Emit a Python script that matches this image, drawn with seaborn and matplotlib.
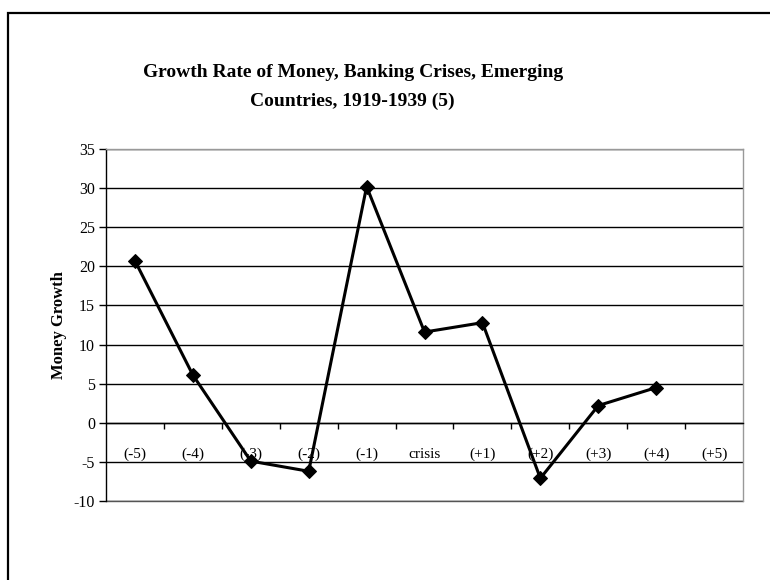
import numpy as np
import matplotlib
matplotlib.use('Agg')
import matplotlib.pyplot as plt
from matplotlib.patches import Rectangle
import seaborn as sns

# event window around the crisis year
categories = ['(-5)', '(-4)', '(-3)', '(-2)', '(-1)', 'crisis',
              '(+1)', '(+2)', '(+3)', '(+4)', '(+5)']
money_growth = [20.7, 6.1, -4.9, -6.2, 30.2, 11.6, 12.8, -7.1, 2.2, 4.5]
y_ticks = [-10, -5, 0, 5, 10, 15, 20, 25, 30, 35]

sns.set_style('white')
plt.rcParams['font.family'] = ['Liberation Serif', 'DejaVu Serif']
plt.rcParams['axes.unicode_minus'] = False
plt.rcParams['text.color'] = 'black'
plt.rcParams['axes.labelcolor'] = 'black'
plt.rcParams['xtick.labelcolor'] = 'black'
plt.rcParams['ytick.labelcolor'] = 'black'

fig = plt.figure(figsize=(7.7, 5.8), dpi=100)
ax = fig.add_axes([0.1377, 0.1362, 0.8273, 0.6069])

pos = np.arange(len(money_growth))
sns.lineplot(x=pos, y=money_growth, ax=ax, color='black', linewidth=2.2,
             marker='D', markersize=7, markeredgecolor='black', zorder=5)

ax.set_xlim(-0.5, len(categories) - 0.5)
ax.set_ylim(y_ticks[0], y_ticks[-1])
ax.set_yticks(y_ticks)
ax.tick_params(axis='y', direction='out', length=5, width=1, color='black',
               labelsize=11.5, pad=3, left=True)

# category axis sits at zero, ticks between categories
ax.spines['bottom'].set_position(('data', 0))
ax.spines['bottom'].set_color('black')
ax.spines['left'].set_color('black')
ax.spines['top'].set_color('#999999')
ax.spines['right'].set_color('#999999')
for s in ax.spines.values():
    s.set_linewidth(1)
ax.set_xticks(np.arange(len(categories)))
ax.set_xticklabels(categories, fontsize=11)
ax.set_xticks(np.arange(0.5, len(categories) - 0.5), minor=True)
ax.tick_params(axis='x', which='major', length=0, pad=18)
ax.tick_params(axis='x', which='minor', direction='out', length=4, width=1,
               color='black', bottom=True)

ax.yaxis.grid(True, color='black', linewidth=1)
ax.axhline(y_ticks[0], color='#555555', linewidth=1, clip_on=False)
ax.set_axisbelow(True)
ax.set_xlabel('')
ax.set_ylabel('Money Growth', fontsize=12, fontweight='bold', labelpad=5)

fig.text(0.458, 0.85, 'Growth Rate of Money, Banking Crises, Emerging\nCountries, 1919-1939 (5)',
         ha='center', va='center', fontsize=14, fontweight='bold', linespacing=1.85)

fig.add_artist(Rectangle((8 / 770, -0.1), 1.2, 1.1 - 12.5 / 580,
                         transform=fig.transFigure, fill=False,
                         edgecolor='black', linewidth=1.6))

fig.savefig('out.png', dpi=100)
